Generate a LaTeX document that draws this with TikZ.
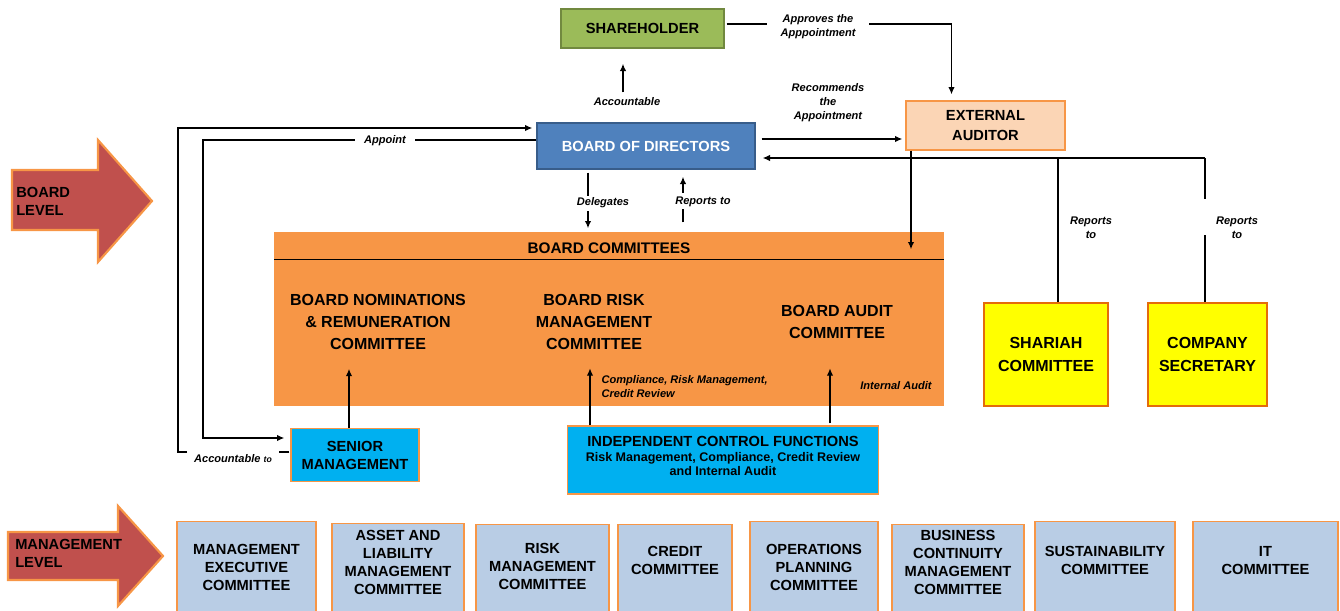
\documentclass[tikz,border=0pt]{standalone}
\usepackage{fontspec}
\setmainfont{Liberation Sans}
\usetikzlibrary{arrows.meta,calc}
\definecolor{orgC}{HTML}{F79646}
\definecolor{redA}{HTML}{C0504D}
\definecolor{grnF}{HTML}{9BBB59}
\definecolor{grnD}{HTML}{71893F}
\definecolor{bluF}{HTML}{4F81BD}
\definecolor{bluD}{HTML}{385D8A}
\definecolor{peach}{HTML}{FBD5B5}
\definecolor{cyanF}{HTML}{00B0F0}
\definecolor{yelF}{HTML}{FFFF00}
\definecolor{orgD}{HTML}{E46C0A}
\definecolor{ltblu}{HTML}{B9CDE5}
\tikzset{
  box/.style={draw, align=center, inner sep=0pt, line width=1pt,
    font=\bfseries\fontsize{11}{13.5}\selectfont},
  sz/.style 2 args={minimum width=#1*0.75pt, minimum height=#2*0.75pt},
  txt/.style={align=center, inner sep=0pt, font=\bfseries\fontsize{11}{13.5}\selectfont},
  lbl/.style={align=center, inner sep=1pt, font=\bfseries\itshape\fontsize{8.3}{10.5}\selectfont},
  arr/.style={-{Latex[length=5.5pt,width=4.8pt]}, line width=0.9pt},
  ln/.style={line width=0.9pt},
  thk/.style={line width=1.6pt},
  lvl/.style={fill=redA, draw=orgC, line width=1.6pt, line join=miter},
  mgbox/.style={box, fill=ltblu, draw=orgC, sz={#1}{100}, anchor=north},
}
\begin{document}
\begin{tikzpicture}[x=0.75pt,y=-0.75pt]
\useasboundingbox (0,0) rectangle (1340,611);
\clip (0,0) rectangle (1340,611);

% level arrows
\path[lvl] (12,170) -- (98,170) -- (98,140) -- (152,201) -- (98,262) -- (98,230) -- (12,230) -- cycle;
\node[txt, align=left, anchor=west] (blev) at (16,201) {BOARD\\LEVEL};
\path[lvl] (8,532) -- (118,532) -- (118,506) -- (163,556) -- (118,606) -- (118,580) -- (8,580) -- cycle;
\node[txt, align=left, anchor=west] (mlev) at (15,553) {MANAGEMENT\\LEVEL};

% top nodes
\node[box, fill=grnF, draw=grnD, sz={163}{39}] (sh) at (642.5,28.5) {SHAREHOLDER};
\node[box, fill=bluF, draw=bluD, text=white, sz={218}{46}] (bod) at (646,146) {BOARD OF DIRECTORS};
\node[box, fill=peach, draw=orgC, sz={159}{49}, font=\bfseries\fontsize{11}{14.3}\selectfont] (ea) at (985.5,125.5) {EXTERNAL\\AUDITOR};

% board committees
\node[box, fill=orgC, draw=orgC, sz={668}{172}] (bc) at (609,319) {};
\node[txt, font=\bfseries\fontsize{11.5}{13}\selectfont] (bch) at (609,248) {BOARD COMMITTEES};
\draw[line width=1.1pt] ($(bc.north west)+(0,27)$) -- ($(bc.north east)+(0,27)$);
\node[txt, font=\bfseries\fontsize{12}{16.5}\selectfont] (nom) at (378,322) {BOARD NOMINATIONS\\\& REMUNERATION\\COMMITTEE};
\node[txt, font=\bfseries\fontsize{12}{16.5}\selectfont] (rmc) at (594,322) {BOARD RISK\\MANAGEMENT\\COMMITTEE};
\node[txt, font=\bfseries\fontsize{12}{16.5}\selectfont] (bac) at (837,322) {BOARD AUDIT\\COMMITTEE};
\node[lbl, align=left, anchor=west] (crl) at (600,386.5) {Compliance, Risk Management,\\Credit Review};
\node[lbl] (ial) at (896,386) {Internal Audit};

% right side
\node[box, fill=yelF, draw=orgD, line width=1.5pt, sz={124}{103}, font=\bfseries\fontsize{12}{17.2}\selectfont] (sc) at (1046,354.5) {SHARIAH\\COMMITTEE};
\node[box, fill=yelF, draw=orgD, line width=1.5pt, sz={119}{103}, font=\bfseries\fontsize{12}{17.2}\selectfont] (cs) at (1207.5,354.5) {COMPANY\\SECRETARY};

% lower nodes
\node[box, fill=cyanF, draw=orgC, sz={128}{53}] (sm) at (355,455) {SENIOR\\MANAGEMENT};
\node[box, fill=cyanF, draw=orgC, sz={311}{68}] (icf) at (723,460) {};
\node[txt, font=\bfseries\fontsize{9.4}{12}\selectfont] (icft) at (723,456)
  {{\fontsize{11}{13}\selectfont INDEPENDENT CONTROL FUNCTIONS}\\[-1pt]Risk Management, Compliance, Credit Review\\[-1.5pt]and Internal Audit};

% management level boxes
\node[mgbox={139}] (m1) at (246.5,521) {};
\node[txt] (m1t) at (246.5,567) {MANAGEMENT\\EXECUTIVE\\COMMITTEE};
\node[mgbox={132}] (m2) at (398,523) {};
\node[txt] (m2t) at (398,562) {ASSET AND\\LIABILITY\\MANAGEMENT\\COMMITTEE};
\node[mgbox={133}] (m3) at (542.5,524) {};
\node[txt] (m3t) at (542.5,566) {RISK\\MANAGEMENT\\COMMITTEE};
\node[mgbox={114}] (m4) at (675,524) {};
\node[txt] (m4t) at (675,560.5) {CREDIT\\COMMITTEE};
\node[mgbox={128}] (m5) at (814,521) {};
\node[txt] (m5t) at (814,567) {OPERATIONS\\PLANNING\\COMMITTEE};
\node[mgbox={132}] (m6) at (958,524) {};
\node[txt] (m6t) at (958,562.5) {BUSINESS\\CONTINUITY\\MANAGEMENT\\COMMITTEE};
\node[mgbox={140}] (m7) at (1105,521) {};
\node[txt] (m7t) at (1105,560) {SUSTAINABILITY\\COMMITTEE};
\node[mgbox={145}] (m8) at (1265.5,521) {};
\node[txt] (m8t) at (1265.5,560.5) {IT\\COMMITTEE};

% labels
\node[lbl] (acc) at (627,102) {Accountable};
\node[lbl, inner xsep=10pt] (apl) at (818,26.5) {Approves the\\Apppointment};
\node[lbl] (rec) at (828,103) {Recommends\\the\\Appointment};
\node[lbl] (dlg) at (603,203) {Delegates};
\node[lbl] (rpt) at (703,202) {Reports to};
\node[lbl, inner xsep=7pt] (apt) at (385,141) {Appoint};
\node[lbl, inner xsep=4pt] (accto) at (233,459) {Accountable {\fontsize{6.5}{8}\selectfont to}};
\node[lbl] (rp1) at (1091,227.5) {Reports\\to};
\node[lbl] (rp2) at (1237,227.5) {Reports\\to};

% junction coordinates
\coordinate (jn) at (1205,158);
\coordinate (jb) at (943,158);
\coordinate (apc) at (203,140);
\coordinate (acc1) at (187,452);
\coordinate (acc2) at (178,452);
\coordinate (sct) at ($(sc.north)+(12,0)$);

% connectors
\draw[arr, thk] ($(bod.north)+(-23,-30)$) -- ($(sh.south -| bod.north)+(-23,15)$);
\draw[ln] ($(sh.east)+(2,-4.5)$) -- (apl.west |- 0,24);
\draw[arr] (apl.east |- 0,24) -| ($(ea.north)+(-34,-6)$);
\draw[arr] ($(bod.east)+(6,-7)$) -- ($(bod.east -| ea.west)+(-3,-7)$);
\draw[thk] (jn) -- (jb);
\draw[arr] (jb) -- ($(bod.east)+(7,12)$);
\draw[ln] (jn) -- ($(jn)+(0,41)$);
\draw[ln] ($(cs.north -| jn)+(0,-67)$) -- (cs.north -| jn);
\draw[ln] (sct |- jn) -- (sct);
\draw[arr, thk] ($(ea.south)+(-74.5,0)$) -- ($(bc.north -| ea.south)+(-74.5,17)$);
\draw[thk] ($(bod.south)+(-58,3)$) -- ($(bod.south)+(-58,26)$);
\draw[arr, thk] ($(bc.north -| bod.south)+(-58,-21)$) -- ($(bc.north -| bod.south)+(-58,-4)$);
\draw[ln] ($(bc.north -| bod.south)+(37,-10)$) -- ($(bc.north -| bod.south)+(37,-23)$);
\draw[arr, thk] ($(bod.south)+(37,23)$) -- ($(bod.south)+(37,7)$);
\draw[ln] ($(bod.west)+(0,-6)$) -- (apt.east |- 0,140);
\draw[arr] (apt.west |- 0,140) -- (apc) |- ($(sm.west)+(-6,-17)$);
\draw[ln] ($(sm.west)+(-1,-3)$) -- ($(sm.west)+(-11,-3)$);
\draw[arr] (acc1) -- (acc2) |- ($(bod.west)+(-4,-18)$);
\draw[arr] ($(sm.north)+(-6,0)$) -- ($(sm.north)+(-6,-59)$);
\draw[arr] ($(icf.north)+(-133,0)$) -- ($(icf.north)+(-133,-57)$);
\draw[arr] ($(icf.north)+(107,-2)$) -- ($(icf.north)+(107,-57)$);
\end{tikzpicture}
\end{document}
